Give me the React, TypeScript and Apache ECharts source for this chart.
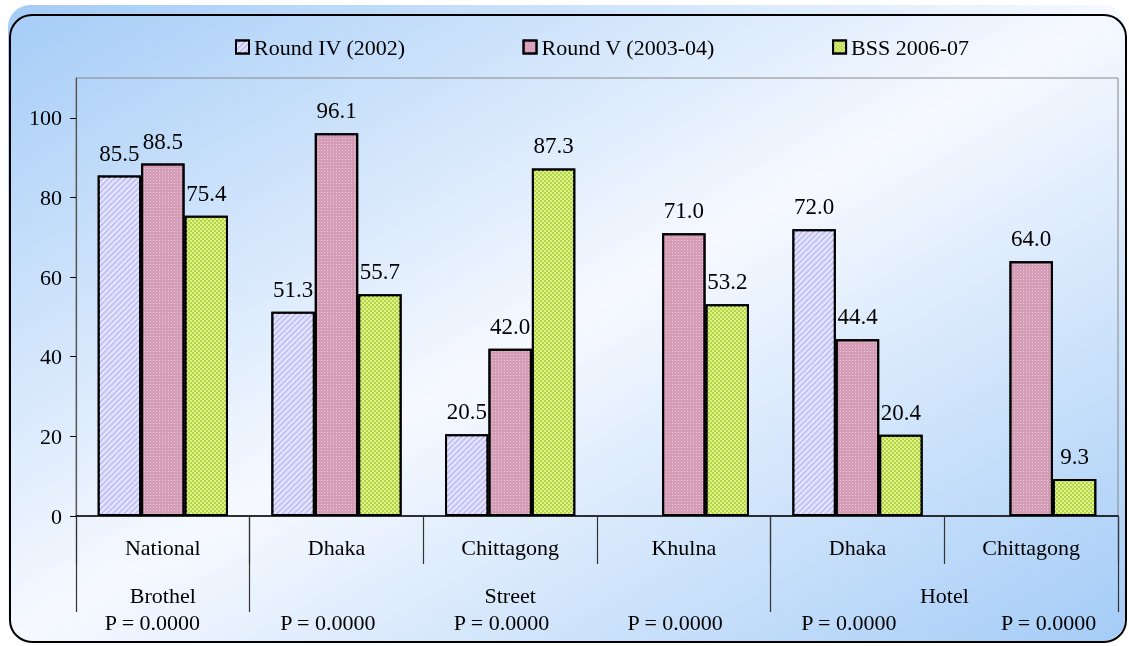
import React, { useEffect, useRef } from "react";
import * as echarts from "echarts";

const categories = ["National", "Dhaka", "Chittagong", "Khulna", "Dhaka", "Chittagong"];
const groups = ["Brothel", "Street", "Hotel"];
const groupSpans = [1, 3, 2];
const pLabels = ["P = 0.0000", "P = 0.0000", "P = 0.0000", "P = 0.0000", "P = 0.0000", "P = 0.0000"];
const pLabelPos = [0.44, 1.45, 2.45, 3.45, 4.45, 5.6];
const seriesNames = ["Round IV (2002)", "Round V (2003-04)", "BSS 2006-07"];
const roundIV = [85.5, 51.3, 20.5, null, 72.0, null];
const roundV = [88.5, 96.1, 42.0, 71.0, 44.4, 64.0];
const bss = [75.4, 55.7, 87.3, 53.2, 20.4, 9.3];
const yTicks = [0, 20, 40, 60, 80, 100];

const FONT = "Liberation Serif";
const FS = 22;

export default function App() {
  const ref = useRef<HTMLDivElement>(null);
  useEffect(() => {
    if (!ref.current) return;
    const chart = echarts.init(ref.current, null, { renderer: "svg" });

    const bounds: number[] = [0];
    groupSpans.forEach((s) => bounds.push(bounds[bounds.length - 1] + s));
    const centers = groupSpans.map((s, i) => bounds[i] + s / 2);

    const label = {
      show: true,
      position: "top",
      distance: 11,
      color: "#000",
      fontFamily: FONT,
      fontSize: 23,
      formatter: (p: any) => (p.value == null ? "" : Number(p.value).toFixed(1)),
    };
    const border = { borderColor: "#000", borderWidth: 2 };

    const decals = [
      {
        symbol: "rect",
        symbolSize: 1,
        color: "rgba(255,255,255,0.6)",
        dashArrayX: [1, 0],
        dashArrayY: [1.5, 1.5],
        rotation: -Math.PI / 4,
      },
      {
        symbol: "rect",
        symbolSize: 1,
        color: "rgba(255,255,255,0.45)",
        dashArrayX: [1, 2],
        dashArrayY: [1, 2],
        rotation: 0,
      },
      {
        symbol: "rect",
        symbolSize: 1,
        color: "rgba(255,255,255,0.55)",
        dashArrayX: [[2, 2], [0, 2, 2, 0]],
        dashArrayY: [2, 0],
        rotation: 0,
      },
    ];
    const colors = ["#c2c2f6", "#d59cb6", "#b4da30"];
    const dataSets = [roundIV, roundV, bss];

    const option: any = {
      animation: false,
      textStyle: { fontFamily: FONT },
      graphic: [
        {
          type: "rect",
          z: -10,
          silent: true,
          shape: { x: 8, y: 5, width: 1117, height: 636, r: 22 },
          style: {
            fill: new echarts.graphic.LinearGradient(0, 0, 1, 1, [
              { offset: 0, color: "#a4ccf7" },
              { offset: 0.5, color: "#f6f9ff" },
              { offset: 1, color: "#a4ccf7" },
            ]),
          },
        },
        {
          type: "rect",
          z: -9,
          silent: true,
          shape: { x: 10, y: 15, width: 1116, height: 627, r: 22 },
          style: { fill: "none", stroke: "#000", lineWidth: 2 },
        },
      ],
      legend: {
        left: 230,
        top: 31,
        icon: "rect",
        itemWidth: 13,
        itemHeight: 13,
        itemGap: 117,
        textStyle: { fontFamily: FONT, fontSize: FS, color: "#000" },
        data: seriesNames,
      },
      grid: {
        left: 76,
        right: 11,
        top: 78,
        bottom: 130,
        show: true,
        borderColor: "#888",
        borderWidth: 1,
        backgroundColor: "transparent",
      },
      xAxis: [
        {
          type: "category",
          data: categories,
          axisLine: { lineStyle: { color: "#000", width: 1.5 } },
          axisTick: { show: true, interval: 0, length: 48, lineStyle: { color: "#333", width: 1.2 } },
          axisLabel: { interval: 0, margin: 20, color: "#000", fontFamily: FONT, fontSize: FS },
        },
        {
          type: "value",
          min: 0,
          max: categories.length,
          position: "bottom",
          axisLine: { show: false },
          splitLine: { show: false },
          axisTick: { show: true, customValues: bounds, length: 96, lineStyle: { color: "#333", width: 1.2 } },
          axisLabel: {
            customValues: centers,
            margin: 68,
            color: "#000",
            fontFamily: FONT,
            fontSize: FS,
            formatter: (v: number) => {
              const i = centers.findIndex((c) => Math.abs(c - v) < 1e-6);
              return i >= 0 ? groups[i] : "";
            },
          },
        },
        {
          type: "value",
          min: 0,
          max: categories.length,
          position: "bottom",
          axisLine: { show: false },
          splitLine: { show: false },
          axisTick: { show: false },
          axisLabel: {
            customValues: pLabelPos,
            margin: 95,
            color: "#000",
            fontFamily: FONT,
            fontSize: FS,
            formatter: (v: number) => {
              const i = pLabelPos.findIndex((c) => Math.abs(c - v) < 1e-6);
              return i >= 0 ? pLabels[i] : "";
            },
          },
        },
      ],
      yAxis: {
        type: "value",
        min: 0,
        max: 110,
        axisLine: { show: true, lineStyle: { color: "#555", width: 1.2 } },
        axisTick: { show: true, customValues: yTicks, length: 6, lineStyle: { color: "#000" } },
        axisLabel: { customValues: yTicks, margin: 14, color: "#000", fontFamily: FONT, fontSize: FS },
        splitLine: { show: false },
      },
      series: dataSets.map((d, i) => ({
        name: seriesNames[i],
        type: "bar",
        xAxisIndex: 0,
        data: d,
        barGap: "0%",
        barCategoryGap: "25%",
        itemStyle: { color: colors[i], ...border, decal: decals[i] },
        label,
      })),
    };
    chart.setOption(option);
    return () => chart.dispose();
  }, []);
  return (
    <div
      ref={ref}
      style={{ position: "fixed", left: 0, top: 0, width: 1129, height: 646 }}
    />
  );
}
